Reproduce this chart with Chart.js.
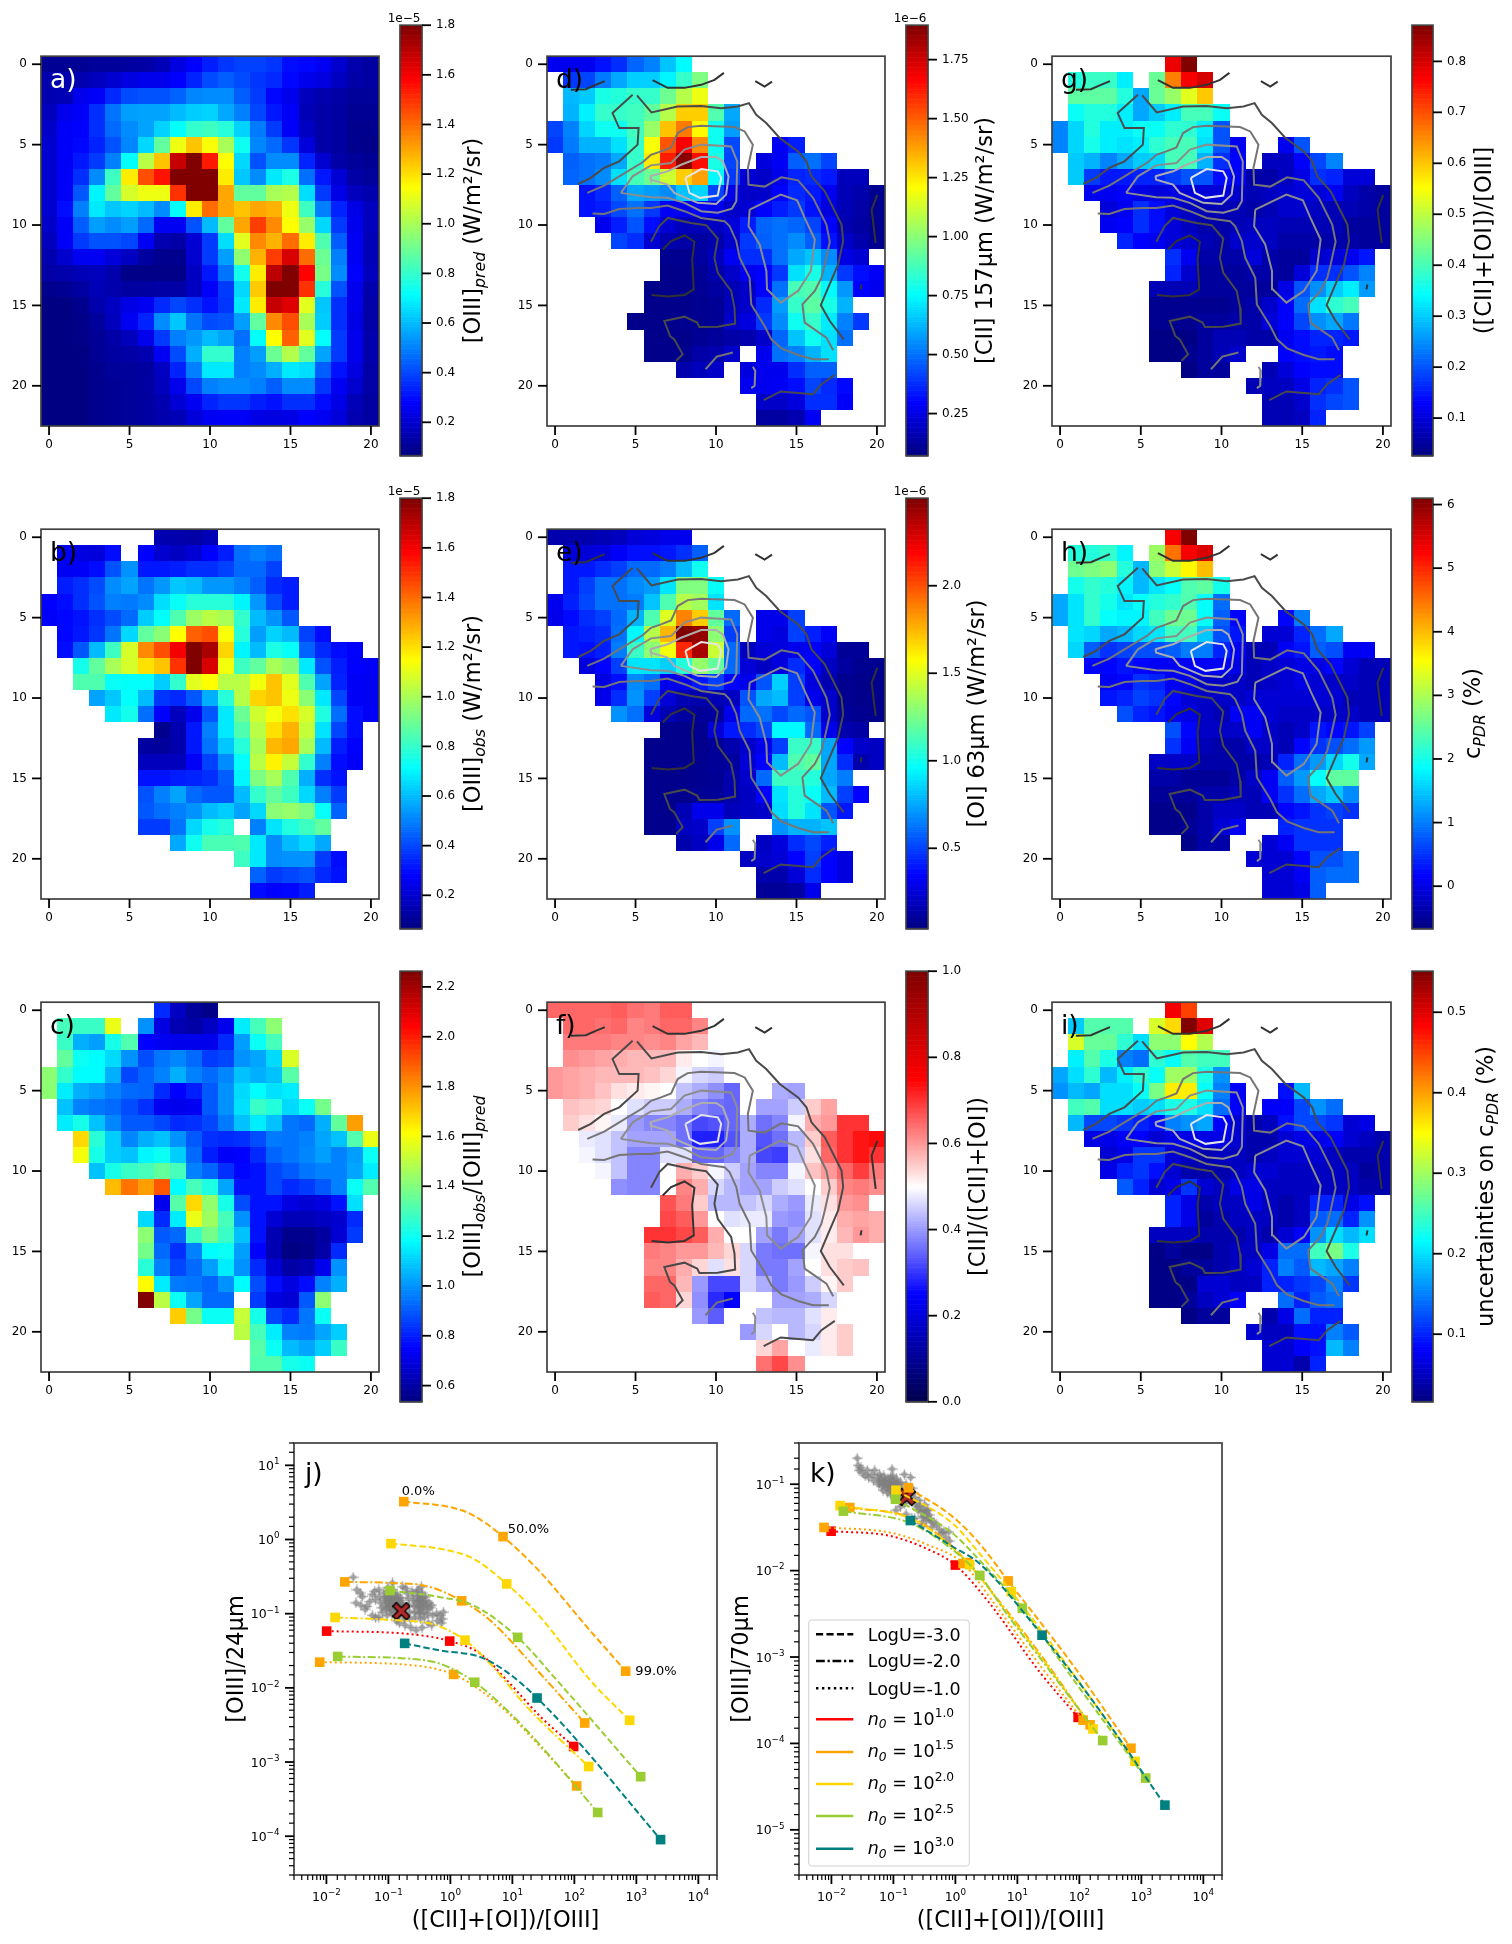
<!DOCTYPE html>
<html>
<head>
<meta charset="utf-8">
<title>Maps and line ratios</title>
<script src="https://cdn.jsdelivr.net/npm/chart.js@4"></script>
<style>
    html, body { margin: 0; background: #fff; }
    #page { position: relative; width: 1512px; height: 1944px; overflow: hidden; }
    canvas { position: absolute; }
</style>
</head>
<body>
<div id="page"></div>
<script>
const _ = null;

// maps, rows 0-22, columns 0-20, values as on each colorbar
const gridA = [
    [10,10,10,11,11,12,13,16,23,28,33,37,39,39,37,30,29,26,20,14,12],
    [14,14,15,17,20,23,25,25,28,34,41,44,41,37,35,29,25,23,18,13,12],
    [15,16,25,27,35,41,42,42,45,51,52,52,44,38,29,25,17,14,13,11,11],
    [17,25,27,36,48,55,56,56,60,63,64,57,50,40,32,27,16,13,12,10,10],
    [19,27,28,36,46,52,56,64,72,80,82,78,64,49,38,27,18,13,12,9,9],
    [20,27,29,34,42,51,65,88,112,125,114,100,74,51,46,37,22,13,12,9,8],
    [20,27,32,38,50,72,103,125,168,180,154,115,65,42,52,52,34,20,13,11,10],
    [20,27,36,52,82,118,145,155,180,180,180,118,62,52,68,76,47,32,21,13,11],
    [20,27,43,70,88,108,112,112,150,180,180,130,88,88,100,102,66,38,24,17,14],
    [20,30,50,68,62,64,60,52,72,118,140,130,125,130,128,112,82,50,34,24,17],
    [19,27,44,55,52,55,46,26,26,42,60,88,130,148,135,115,97,65,38,25,17],
    [17,27,38,42,42,40,26,15,13,21,38,66,110,135,128,140,118,85,44,26,16],
    [15,20,26,26,22,18,12,9,9,20,38,55,96,128,148,165,140,90,50,26,16],
    [13,14,16,17,14,8,8,8,8,18,32,48,75,118,170,180,158,92,52,28,17],
    [9,10,12,16,14,12,12,13,13,18,27,38,65,124,180,180,150,78,42,25,14],
    [7,7,9,14,18,24,26,35,40,36,31,37,68,118,168,164,110,62,36,25,13],
    [7,7,8,11,17,26,34,52,62,48,41,42,55,88,135,145,100,63,36,24,13],
    [7,7,8,10,13,17,25,38,50,54,60,56,47,72,115,142,110,72,38,25,14],
    [7,7,7,10,12,13,15,26,41,58,80,80,50,55,90,102,88,56,38,25,14],
    [7,7,7,9,11,11,12,18,34,50,68,68,50,52,58,68,66,44,31,23,13],
    [7,7,7,9,10,11,12,17,25,40,50,52,52,50,44,52,52,37,26,20,13],
    [7,7,7,9,10,11,12,15,21,26,34,37,37,33,31,36,36,30,24,16,12],
    [7,7,7,9,10,11,12,14,16,22,26,27,27,24,23,24,28,26,22,15,12]
].map(r => r.map(v => v / 100));

const gridB = [
    [_,_,_,_,_,_,_,.15,.14,.13,.16],
    [_,.26,.23,.22,.3,_,.28,.2,.18,.21,.28,.33,.47,.5,.47],
    [_,.26,.27,.3,.42,.53,.32,.32,.33,.36,.36,.39,.46,.46,.39],
    [_,.33,.36,.41,.52,.56,.48,.54,.62,.6,.54,.54,.5,.44,.35,.33],
    [.28,.3,.36,.42,.5,.49,.52,.66,.73,.78,.78,.78,.7,.54,.41,.33],
    [.27,.29,.31,.36,.41,.46,.63,.72,.85,.98,1.03,1.0,.8,.6,.53,.43],
    [_,.29,.32,.37,.48,.65,.88,.95,1.15,1.42,1.45,1.14,.78,.55,.64,.6,.39,.3],
    [_,.3,.43,.6,.82,1.08,1.35,1.45,1.6,1.8,1.73,1.22,.7,.6,.76,.73,.45,.35,.3,.28],
    [_,_,.75,.88,1.0,1.08,1.2,1.25,1.5,1.8,1.65,1.13,.82,.88,1.0,.95,.68,.42,.33,.28,.27],
    [_,_,.85,.85,.73,.72,.72,.63,.8,1.1,1.15,1.03,1.03,1.13,1.25,1.1,.85,.56,.34,.27,.26],
    [_,_,_,.56,.62,.72,.6,.37,.35,.43,.58,.78,1.03,1.22,1.25,1.12,.95,.68,.4,.27,.26],
    [_,_,_,_,.68,.75,.47,.28,.17,.25,.43,.68,.9,1.07,1.13,1.2,1.08,.77,.47,.3,.27],
    [_,_,_,_,_,_,_,.09,.15,.32,.5,.68,.85,1.03,1.2,1.28,1.05,.67,.4,.3],
    [_,_,_,_,_,_,.12,.11,.14,.32,.48,.62,.78,1.0,1.27,1.3,1.0,.6,.33,.28],
    [_,_,_,_,_,_,.17,.17,.17,.27,.39,.52,.72,1.03,1.17,1.05,.8,.5,.3,.27],
    [_,_,_,_,_,_,.31,.31,.33,.34,.36,.44,.7,.93,1.0,.85,.58,.36,.31],
    [_,_,_,_,_,_,.42,.5,.56,.46,.43,.43,.6,.8,.88,.82,.65,.5,.38],
    [_,_,_,_,_,_,.43,.47,.5,.53,.6,.63,.56,.65,.95,.97,.93,.73,.45],
    [_,_,_,_,_,_,.38,.38,.48,.65,.75,.78,_,.5,.67,.77,.82,.88],
    [_,_,_,_,_,_,_,_,.57,.74,.84,.84,.85,.68,.52,.6,.65,.57],
    [_,_,_,_,_,_,_,_,_,_,_,_,.82,.68,.52,.53,.53,.38,.3],
    [_,_,_,_,_,_,_,_,_,_,_,_,_,.45,.38,.4,.42,.35,.31],
    [_,_,_,_,_,_,_,_,_,_,_,_,_,.3,.28,.29,.33]
];

const gridC = [
    [_,_,_,_,_,_,_,.82,.65,.58,.55],
    [_,1.3,1.28,1.28,1.58,_,1.0,.7,.62,.6,.65,.72,1.15,1.3,1.42],
    [_,1.28,1.05,1.02,1.22,1.32,.75,.73,.72,.72,.72,.82,1.02,1.2,1.3],
    [_,1.35,1.2,1.18,1.12,1.0,.88,.95,.98,.93,.85,.87,1.0,1.03,1.12,1.55],
    [1.42,1.27,1.18,1.18,1.05,.87,.92,.97,1.05,.97,.93,.98,1.08,1.05,1.08,1.33],
    [1.42,1.15,1.05,1.02,.97,.93,.92,.82,.75,.8,.9,1.0,1.12,1.18,1.13,1.15],
    [_,1.08,.97,.95,.93,.88,.83,.73,.72,.73,.9,1.0,1.13,1.28,1.24,1.12,1.2,1.38],
    [_,1.15,1.22,1.08,.98,.9,.9,.87,.82,.83,.87,.96,1.08,1.15,1.08,.95,.93,1.05,1.35,1.78],
    [_,_,1.68,1.25,1.1,.98,1.05,1.08,1.0,.9,.83,.82,.83,.88,.96,.95,.97,1.03,1.08,1.32,1.58],
    [_,_,1.6,1.22,1.1,1.08,1.17,1.2,1.1,.93,.8,.74,.75,.82,.92,.95,.98,1.02,.97,1.02,1.2],
    [_,_,_,1.08,1.22,1.28,1.3,1.35,1.3,.97,.92,.83,.76,.78,.87,.9,.95,.97,.97,1.03,1.15],
    [_,_,_,_,1.73,1.85,1.78,1.9,1.18,1.3,1.23,1.03,.78,.78,.87,.82,.85,.9,.97,1.2,1.32],
    [_,_,_,_,_,_,_,.72,1.33,1.68,1.43,1.22,.88,.78,.78,.7,.68,.7,.78,1.13],
    [_,_,_,_,_,_,1.12,.82,1.15,1.58,1.45,1.3,1.0,.78,.68,.63,.63,.65,.67,.82],
    [_,_,_,_,_,_,1.42,.9,.93,1.28,1.38,1.28,1.08,.78,.62,.56,.56,.59,.68,.85],
    [_,_,_,_,_,_,1.38,.93,.83,.97,1.18,1.2,1.02,.75,.62,.54,.55,.6,.82],
    [_,_,_,_,_,_,1.25,.97,.87,.93,1.02,1.15,1.0,.82,.68,.6,.62,.72,1.0],
    [_,_,_,_,_,_,1.62,1.15,.96,.95,.92,1.0,1.18,.88,.77,.7,.77,.97,1.05],
    [_,_,_,_,_,_,2.26,1.5,1.2,1.03,.93,.93,_,.85,.7,.68,.9,1.42],
    [_,_,_,_,_,_,_,_,1.7,1.38,1.2,1.2,1.52,1.22,.87,.82,.95,1.2],
    [_,_,_,_,_,_,_,_,_,_,_,_,1.5,1.3,1.15,.97,.96,1.03,1.1],
    [_,_,_,_,_,_,_,_,_,_,_,_,_,1.33,1.2,1.07,1.03,1.1,1.28],
    [_,_,_,_,_,_,_,_,_,_,_,_,_,1.32,1.32,1.22,1.2]
];

const gridD = [
    [.27,.27,.27,.33,.38,.48,.53,.65,.75],
    [_,.4,.42,.52,.6,.67,.67,.74,.85,.98],
    [_,.63,.66,.8,.82,.85,.85,.95,1.08,1.18],
    [_,.62,.73,.85,.85,.87,.93,1.08,1.3,1.3,.9,.6],
    [.42,.53,.68,.78,.78,.87,1.03,1.32,1.45,1.22,.78,.58],
    [.4,.52,.62,.62,.7,.85,1.2,1.52,1.68,1.42,.78,.43,_,_,.28,.35],
    [_,.47,.5,.52,.6,.85,1.25,1.62,1.88,1.65,.8,.42,_,.24,.28,.47,.5,.42],
    [_,.48,.5,.55,.7,.88,.95,1.12,1.3,1.38,.75,.4,.22,.2,.26,.36,.37,.34,.18,.18],
    [_,_,.33,.37,.47,.6,.58,.55,.65,.68,.42,.26,.2,.21,.3,.37,.34,.27,.17,.15,.1],
    [_,_,.33,.35,.43,.5,.4,.28,.27,.3,.27,.2,.22,.3,.35,.4,.33,.24,.17,.14,.1],
    [_,_,_,.27,.35,.45,.32,.22,.18,.17,.19,.23,.35,.48,.5,.48,.42,.3,.16,.13,.1],
    [_,_,_,_,.42,.38,.22,.16,.14,.13,.15,.21,.4,.47,.5,.55,.47,.33,.2,.15,.1],
    [_,_,_,_,_,_,_,.1,.1,.13,.18,.28,.38,.38,.5,.6,.65,.55,.25,.22],
    [_,_,_,_,_,_,_,.09,.09,.11,.15,.2,.27,.3,.4,.7,.8,.62,.4,.32,.28],
    [_,_,_,_,_,_,.09,.09,.09,.11,.13,.17,.2,.3,.5,.88,.9,.75,.57,.3,.27],
    [_,_,_,_,_,_,.09,.09,.09,.1,.11,.18,.2,.37,.58,.85,.92,.8,.62],
    [_,_,_,_,_,.09,.09,.09,.1,.1,.11,.2,.24,.4,.55,.78,.85,.72,.53,.4],
    [_,_,_,_,_,_,.09,.09,.09,.11,.12,.14,.15,.2,.48,.65,.78,.7,.5],
    [_,_,_,_,_,_,.09,.09,.1,.14,.15,.2,_,.27,.5,.53,.62,.7],
    [_,_,_,_,_,_,_,_,.15,.18,.2,_,.24,.27,.27,.38,.47,.47],
    [_,_,_,_,_,_,_,_,_,_,_,_,.27,.27,.28,.32,.42,.37,.31],
    [_,_,_,_,_,_,_,_,_,_,_,_,_,.2,.2,.24,.38,.38,.29],
    [_,_,_,_,_,_,_,_,_,_,_,_,_,.13,.13,.16,.28]
];

const gridE = [
    [.15,.15,.15,.17,.19,.25,.27,.3,.31],
    [_,.25,.25,.27,.33,.38,.38,.4,.46,.58],
    [_,.4,.4,.45,.5,.6,.6,.65,.8,1.0],
    [_,.4,.5,.62,.62,.68,.72,.9,1.27,1.27,.98],
    [.31,.42,.52,.62,.62,.65,.82,1.15,1.4,1.35,.9],
    [.3,.37,.45,.5,.6,.78,1.15,1.5,1.88,1.7,1.2,.6,_,.3,.3,.5],
    [_,.4,.42,.45,.62,.95,1.4,1.75,2.5,2.45,1.3,.5,_,.3,.27,.5,.42,.33],
    [_,.4,.38,.42,.65,1.1,1.3,1.55,2.1,2.4,1.45,.6,.2,.25,.27,.3,.33,.25,.1,.1],
    [_,_,.27,.35,.5,.9,.9,.85,1.05,1.32,1.2,.6,.25,.2,.27,.45,.33,.2,.12,.08,.08],
    [_,_,_,.28,.38,.68,.62,.3,.3,.4,.5,.35,.3,.55,.85,.5,.27,.16,.08,.07,.07],
    [_,_,_,.3,.45,.7,.5,.25,.17,.15,.17,.2,.55,.75,.8,.5,.3,.22,.08,.07,.07],
    [_,_,_,_,.7,.62,.27,.17,.12,.1,.12,.3,.6,.62,.52,.6,.55,.22,.1,.08,.07],
    [_,_,_,_,_,_,_,.07,.07,.08,.25,.4,.45,.52,.95,.95,.6,.3,.15,.13],
    [_,_,_,_,_,_,.07,.07,.07,.07,.1,.15,.22,.3,.5,1.1,1.1,.75,.35,.22,.2],
    [_,_,_,_,_,_,.07,.07,.07,.08,.1,.12,.25,.35,.8,1.15,1.2,.75,.45,.15,.2],
    [_,_,_,_,_,_,.07,.07,.07,.08,.09,.15,.22,.6,1.1,1.1,1.05,.75,.65],
    [_,_,_,_,_,_,.07,.07,.07,.09,.1,.15,.2,.35,.9,1.05,.98,.8,.5,.35],
    [_,_,_,_,_,_,.07,.07,.17,.3,.3,.18,.2,.22,.88,1.05,.9,.55,.4],
    [_,_,_,_,_,_,.07,.07,.2,.22,.5,.7,_,_,.7,.78,.78,.82],
    [_,_,_,_,_,_,_,_,.15,.2,.3,.6,_,.2,.27,.45,.52,.42],
    [_,_,_,_,_,_,_,_,_,_,_,_,.2,.22,.25,.35,.5,.35,.27],
    [_,_,_,_,_,_,_,_,_,_,_,_,_,.15,.15,.25,.45,.35,.27],
    [_,_,_,_,_,_,_,_,_,_,_,_,_,.1,.1,.13,.3]
];

const gridF = [
    [.65,.65,.65,.65,.66,.64,.63,.66,.66],
    [_,.65,.65,.64,.65,.62,.63,.65,.65,.62],
    [_,.63,.63,.63,.62,.62,.61,.62,.59,.57],
    [_,.61,.6,.59,.58,.57,.57,.57,.52,.5,.49],
    [.6,.59,.58,.57,.57,.57,.56,.54,.49,.46,.45],
    [.6,.59,.58,.56,.53,.52,.51,.5,.44,.42,.39,.35,_,_,.42,.41],
    [_,.56,.55,.54,.5,.47,.45,.45,.42,.38,.36,.35,_,.41,.41,.45,.55,.59],
    [_,.55,.53,.51,.48,.4,.38,.38,.36,.32,.33,.35,.42,.36,.38,.49,.58,.6,.7,.7],
    [_,_,.48,.47,.44,.41,.41,.41,.36,.28,.28,.33,.42,.33,.36,.43,.55,.66,.7,.73,.74],
    [_,_,.49,.47,.44,.38,.38,.47,.47,.35,.35,.38,.42,.32,.31,.44,.53,.65,.7,.73,.7],
    [_,_,_,.49,.44,.38,.38,.5,.58,.55,.49,.45,.41,.38,.38,.49,.56,.6,.65,.69,.63],
    [_,_,_,_,.39,.38,.38,.5,.62,.58,.46,.43,.41,.41,.45,.47,.5,.55,.62,.63,.61],
    [_,_,_,_,_,_,_,.67,.63,.55,.43,.43,.44,.46,.42,.4,.48,.53,.6,.61],
    [_,_,_,_,_,_,_,.68,.66,.6,.5,.47,.48,.48,.4,.39,.47,.52,.58,.59,.58],
    [_,_,_,_,_,_,.7,.7,.68,.66,.58,.5,.5,.41,.37,.41,.47,.52,.57,.6,.58],
    [_,_,_,_,_,_,.63,.62,.6,.6,.57,.54,.46,.37,.36,.36,.49,.53,.53],
    [_,_,_,_,_,_,.62,.62,.58,.54,.47,.53,.46,.37,.37,.41,.5,.53,.55,.56],
    [_,_,_,_,_,_,.65,.65,.57,.4,.32,.32,.46,.42,.37,.4,.45,.51,.55],
    [_,_,_,_,_,_,.66,.65,.54,.39,.29,.25,_,_,.41,.41,.42,.46],
    [_,_,_,_,_,_,_,_,.5,.4,.34,_,_,.44,.43,.43,.47,.52],
    [_,_,_,_,_,_,_,_,_,_,_,_,.4,.46,.5,.43,.46,.52,.55],
    [_,_,_,_,_,_,_,_,_,_,_,_,_,.54,.59,.5,.48,.52,.55],
    [_,_,_,_,_,_,_,_,_,_,_,_,_,.64,.68,.61,.5]
];

const gridG = [
    [_,_,_,_,_,_,_,.78,.87],
    [_,.37,.39,.39,.33,_,.43,.66,.77,.8],
    [_,.42,.42,.42,.37,.27,.43,.47,.53,.6],
    [_,.35,.37,.37,.33,.27,.3,.33,.4,.4,.35],
    [.24,.31,.37,.33,.33,.35,.35,.38,.38,.33,.2],
    [.24,.31,.36,.33,.32,.33,.38,.4,.4,.32,.2,.12,_,_,.12,.2],
    [_,.3,.28,.24,.27,.3,.31,.4,.4,.28,.17,.13,_,.08,.08,.13,.19,.24],
    [_,.3,.18,.15,.15,.16,.16,.18,.2,.2,.14,.12,.06,.06,.08,.11,.17,.16,.1,.1],
    [_,_,.12,.12,.13,.11,.1,.11,.1,.1,.1,.09,.07,.08,.09,.1,.1,.12,.08,.06,.05],
    [_,_,_,.1,.12,.17,.14,.1,.08,.07,.07,.07,.06,.07,.09,.09,.08,.07,.07,.06,.05],
    [_,_,_,.12,.13,.17,.14,.1,.08,.06,.06,.07,.08,.08,.07,.07,.07,.07,.05,.05,.05],
    [_,_,_,_,.16,.13,.12,.1,.09,.07,.06,.09,.09,.08,.06,.06,.06,.06,.06,.05,.05],
    [_,_,_,_,_,_,_,.17,.12,.06,.06,.06,.1,.06,.05,.05,.09,.1,.12,.15],
    [_,_,_,_,_,_,_,.16,.09,.05,.05,.05,.06,.06,.05,.1,.17,.17,.2,.24],
    [_,_,_,_,_,_,.07,.07,.07,.05,.05,.05,.05,.05,.11,.2,.25,.3,.33,.26],
    [_,_,_,_,_,_,.04,.04,.04,.04,.04,.05,.06,.09,.13,.22,.32,.38,.4],
    [_,_,_,_,_,_,.04,.04,.04,.05,.05,.06,.06,.1,.13,.19,.25,.27,.23],
    [_,_,_,_,_,_,.03,.03,.03,.05,.07,.07,.06,.06,.12,.14,.16,.16,.15],
    [_,_,_,_,_,_,.03,.03,.04,.05,.07,.09,_,_,.13,.14,.15,.14],
    [_,_,_,_,_,_,_,_,.03,.05,.05,_,_,.07,.1,.13,.14,.14],
    [_,_,_,_,_,_,_,_,_,_,_,_,.07,.08,.08,.11,.16,.17,.2],
    [_,_,_,_,_,_,_,_,_,_,_,_,_,.07,.07,.09,.17,.19,.2],
    [_,_,_,_,_,_,_,_,_,_,_,_,_,.07,.07,.08,.16]
];

const gridH = [
    [_,_,_,_,_,_,_,5.3,6.1],
    [_,2.1,2.1,2.2,1.8,_,2.9,4.5,5.3,5.5],
    [_,2.6,2.7,2.8,2.1,1.4,2.8,3.2,3.6,4.0],
    [_,2.0,2.2,2.1,1.8,1.4,1.7,1.9,2.4,2.5,2.0],
    [1.3,1.7,2.2,2.0,1.7,1.9,2.1,2.2,2.4,1.9,.9],
    [1.3,1.7,2.2,1.9,1.8,1.8,2.3,2.6,2.6,1.9,.8,.2,_,_,.2,1.0],
    [_,1.7,1.6,1.3,1.4,1.6,1.7,2.3,2.3,1.5,.7,.3,_,-.1,-.1,.4,.9,1.3],
    [_,1.6,.8,.5,.6,.7,.7,.8,1.0,1.0,.4,.1,-.3,-.3,.1,.3,.8,.7,.1,.1],
    [_,_,.2,.2,.3,.2,.1,.1,.1,.1,.1,0,-.3,-.2,-.1,0,0,.2,-.1,-.3,-.3],
    [_,_,_,.1,.2,.5,.4,.1,0,-.2,-.2,-.2,-.3,-.2,-.1,0,-.1,-.2,-.2,-.3,-.3],
    [_,_,_,.3,.4,.6,.5,.2,-.1,-.2,-.2,-.2,-.1,-.1,-.1,-.1,-.1,-.1,-.3,-.3,-.3],
    [_,_,_,_,.7,.4,.3,.1,0,-.2,-.3,.1,.1,-.1,-.2,-.2,-.2,-.2,-.2,-.3,-.3],
    [_,_,_,_,_,_,_,.7,.2,-.2,-.2,-.2,.1,-.2,-.3,-.2,.3,.2,.3,.6],
    [_,_,_,_,_,_,_,.5,.1,-.3,-.4,-.4,-.2,-.2,-.3,.2,.5,.7,.9,1.2],
    [_,_,_,_,_,_,-.2,-.2,-.2,-.4,-.4,-.4,-.4,-.3,.4,.9,1.2,1.6,2.0,1.3],
    [_,_,_,_,_,_,-.4,-.4,-.5,-.5,-.5,-.4,-.2,.1,.8,1.2,1.9,2.5,2.5],
    [_,_,_,_,_,_,-.5,-.5,-.5,-.4,-.4,-.3,-.3,.1,.5,.9,1.3,1.5,1.1],
    [_,_,_,_,_,_,-.6,-.6,-.6,-.4,-.2,-.2,-.3,-.3,.2,.3,.5,.6,.5],
    [_,_,_,_,_,_,-.6,-.6,-.5,-.4,-.1,.1,_,_,.4,.5,.5,.5],
    [_,_,_,_,_,_,_,_,-.6,-.4,-.4,_,_,-.1,.1,.5,.5,.5],
    [_,_,_,_,_,_,_,_,_,_,_,_,-.1,-.1,-.1,.2,.7,.7,.9],
    [_,_,_,_,_,_,_,_,_,_,_,_,_,-.1,-.1,.1,.8,.9,.9],
    [_,_,_,_,_,_,_,_,_,_,_,_,_,-.1,-.1,0,.8]
];

const gridI = [
    [_,_,_,_,_,_,_,.49,.45],
    [_,.19,.26,.26,.26,_,.33,.37,.55,.5],
    [_,.33,.27,.27,.24,.2,.29,.29,.35,.31],
    [_,.21,.26,.23,.15,.14,.24,.22,.26,.25,.25],
    [.17,.2,.24,.18,.21,.24,.22,.3,.3,.23,.16],
    [.16,.18,.17,.2,.2,.22,.28,.36,.36,.22,.15,.08,_,_,.09,.18],
    [_,.25,.26,.2,.2,.19,.2,.23,.23,.2,.14,.08,_,.08,.08,.12,.16,.14],
    [_,.18,.12,.12,.11,.1,.09,.15,.16,.17,.08,.06,.04,.05,.09,.12,.12,.11,.06,.07],
    [_,_,.07,.07,.08,.08,.06,.07,.07,.07,.07,.06,.04,.04,.06,.07,.07,.08,.06,.05,.04],
    [_,_,_,.06,.07,.11,.11,.06,.05,.04,.05,.05,.04,.05,.06,.06,.06,.05,.04,.04,.04],
    [_,_,_,.07,.1,.11,.09,.06,.04,.04,.04,.05,.06,.06,.05,.05,.05,.05,.05,.03,.04],
    [_,_,_,_,.13,.1,.06,.07,.11,.06,.05,.07,.07,.05,.05,.05,.05,.05,.05,.04,.04],
    [_,_,_,_,_,_,_,.1,.07,.04,.05,.05,.07,.05,.04,.05,.1,.1,.07,.09],
    [_,_,_,_,_,_,_,.1,.07,.03,.04,.05,.05,.05,.04,.05,.13,.14,.1,.16],
    [_,_,_,_,_,_,.05,.05,.05,.04,.04,.04,.05,.04,.06,.08,.16,.2,.18,.2],
    [_,_,_,_,_,_,.02,.03,.02,.02,.04,.05,.05,.07,.14,.14,.25,.28,.23],
    [_,_,_,_,_,_,.02,.02,.03,.03,.04,.05,.06,.1,.15,.13,.18,.17,.15],
    [_,_,_,_,_,_,.02,.02,.02,.06,.06,.05,.05,.1,.1,.11,.12,.15,.11],
    [_,_,_,_,_,_,.02,.02,.03,.05,.06,.08,_,_,.14,.1,.13,.14],
    [_,_,_,_,_,_,_,_,.02,.03,.03,_,_,.04,.07,.14,.1,.1],
    [_,_,_,_,_,_,_,_,_,_,_,_,.06,.05,.05,.09,.09,.15,.13],
    [_,_,_,_,_,_,_,_,_,_,_,_,_,.06,.06,.08,.09,.18,.15],
    [_,_,_,_,_,_,_,_,_,_,_,_,_,.06,.06,.04,.1]
];

const mapTicks = [0, 5, 10, 15, 20];

// contour polylines in map coordinates, dark (low) to light (high)
const level1 = [
    [[.98,1.59],[1.91,1.55],[2.64,1.24],[3.09,1.05]],
    [[6.06,.99],[6.99,1.47],[8.04,1.47],[9.08,1.28],[9.91,.97],[10.49,.54]],
    [[12.44,1.05],[13.02,1.39],[13.48,1.08]],
    [[20.02,8.13],[19.67,9.04],[19.92,11.11]],
    [[18.98,14.0],[19.04,13.69]],
    [[6.69,11.52],[7.21,11.0],[8.04,10.65],[8.66,11.04],[8.52,12.14],[8.62,14.0],[8.04,14.35],[7.0,14.44],[6.0,14.35]]
];
const level2 = [
    [[1.44,7.45],[2.22,7.07],[3.05,6.45],[3.99,6.04],[5.13,5.0],[5.19,3.97],[3.99,3.97],[3.57,3.04],[4.82,1.9]],
    [[5.09,1.94],[5.99,3.0],[7.62,2.63],[9.08,2.59],[10.32,2.73],[11.36,2.63],[12.05,2.42],[12.5,3.14],[13.12,3.66],[13.96,4.59],[15.1,5.42],[15.62,6.04],[15.93,6.97],[16.76,7.9],[17.8,9.97],[17.9,11.0],[17.59,12.45],[16.97,13.9],[16.51,14.98],[17.07,15.97],[17.94,17.11]],
    [[5.96,11.04],[6.48,10.07],[7.0,9.56],[8.45,9.87],[9.39,10.01],[10.11,10.84],[9.9,12.04],[10.11,12.97],[10.94,14.1],[11.15,15.14],[11.19,16.13],[10.11,16.32],[8.97,16.34],[8.83,16.07],[8.04,15.7],[6.79,15.97],[7.14,16.9],[7.41,17.11],[7.93,18.04],[7.52,18.45]],
    [[12.96,20.89],[14.02,20.35],[16.03,20.52],[16.55,19.9],[17.38,19.32]]
];
const level3 = [
    [[2.0,8.0],[3.05,7.55],[3.99,6.97],[5.44,6.1],[5.96,5.63],[6.58,5.42],[7.21,5.17],[7.62,4.28],[8.24,3.91],[9.08,3.83],[11.15,3.91],[11.78,4.18],[12.29,5.0],[11.98,6.45],[12.02,7.49],[13.02,7.61],[14.06,7.03],[15.1,7.22],[16.03,8.31],[16.86,9.97],[17.07,11.04],[16.76,12.45],[16.55,13.28],[16.14,14.1],[15.37,14.93],[15.51,16.07],[16.86,17.0],[17.28,17.79]],
    [[2.33,9.29],[3.05,9.31],[3.99,9.0],[5.13,8.94],[5.96,8.94],[6.99,8.79],[8.04,9.14],[9.08,9.56],[10.53,9.76],[10.84,10.07],[11.26,10.99],[11.47,12.04],[12.09,13.28],[12.19,14.94],[13.02,16.28],[13.44,17.11],[14.06,17.67],[15.1,18.08],[16.03,18.35],[17.01,18.35]],
    [[9.35,18.97],[10.05,18.18],[11.05,17.93]]
];
const level4 = [
    [[4.09,8.0],[4.82,6.97],[5.96,6.29],[7.21,6.14],[8.04,5.31],[9.08,5.0],[10.94,5.11],[11.32,6.04],[11.26,8.52],[10.99,8.98],[10.11,9.24],[9.08,9.14],[8.04,8.62],[7.0,8.31],[5.96,8.27],[4.09,8.0]],
    [[12.09,9.04],[14.02,8.11],[15.04,8.47],[15.51,9.56],[16.14,10.9],[15.89,12.86],[15.1,14.1],[14.02,14.83],[13.17,14.0],[13.13,12.86],[12.71,11.21],[12.02,10.07],[12.09,9.04]],
    [[12.29,18.82],[12.44,19.07],[12.4,20.0],[12.19,20.14]]
];
const level5 = [
    [[5.9,6.97],[5.96,7.18],[7.0,7.49],[7.41,8.0],[8.87,8.62],[10.01,8.69],[10.63,8.11],[10.78,6.97],[10.43,6.04],[10.01,5.77],[9.08,5.77],[7.83,6.25],[7.0,6.66],[5.9,6.97]]
];
const level6 = [
    [[8.1,7.07],[8.35,8.0],[9.01,8.31],[10.11,8.17],[10.32,7.07],[10.11,6.66],[9.08,6.52],[8.1,7.07]]
];

// model tracks of panel j, u = -log U, n = log n0 x 10
const j_u3_n15 = [[.177,3.24],[1.13,2.66],[2.38,2.1],[7.06,1.095],[28.3,.362],[160,.066],[673,.0168]];
const j_u3_n20 = [[.11,.88],[.88,.72],[2.38,.548],[8.1,.252],[28.3,.0897],[181,.0126],[780,.00365]];
const j_u3_n25 = [[.106,.205],[.69,.167],[2.38,.129],[12.2,.0479],[52.5,.0126],[1175,.000635]];
const j_u3_n30 = [[.183,.0398],[.69,.0319],[3.05,.026],[8.2,.0163],[25,.0073],[97.5,.0022],[2460,.00009]];
const j_u2_n15 = [[.0198,.268],[.108,.26],[.42,.235],[1.52,.149],[4.4,.081],[28.3,.0155],[147,.00336]];
const j_u2_n20 = [[.0138,.0889],[.156,.0809],[.54,.0716],[1.72,.044],[4.4,.0211],[17.3,.0055],[170,.00087]];
const j_u2_n25 = [[.0152,.0265],[.256,.0244],[.69,.0211],[2.47,.0119],[8.2,.005],[28.3,.00168],[238,.000209]];
const j_u1_n10 = [[.0101,.0582],[.2,.0536],[.975,.0427],[3.05,.0288],[8.2,.0126],[28.3,.0041],[97.5,.00162]];
const j_u1_n15 = [[.0078,.0222],[.2,.0205],[1.13,.0152],[3.05,.00925],[8.2,.0047],[28.3,.0016],[109,.000476]];

// same tracks in panel k
const k_u3_n15 = [[.174,.0907],[.91,.0419],[2.45,.0206],[7.1,.0076],[78.5,.00081],[680,.000088]];
const k_u3_n20 = [[.11,.0852],[.91,.035],[2.45,.0158],[8,.0057],[78.5,.00065],[790,.000062]];
const k_u3_n25 = [[.108,.067],[.91,.0269],[2.45,.0132],[12,.00366],[78.5,.00056],[1175,.0000397]];
const k_u3_n30 = [[.188,.038],[.91,.0189],[2.45,.0121],[25,.00179],[147,.000347],[2400,.0000193]];
const k_u2_n15 = [[.0198,.0537],[.207,.0401],[.81,.0202],[1.56,.0124],[6.65,.00349],[22.9,.0011],[149,.000164]];
const k_u2_n20 = [[.0138,.0566],[.207,.0391],[.81,.0197],[1.7,.0117],[6.65,.00334],[22.9,.00105],[166,.000147]];
const k_u2_n25 = [[.0156,.0488],[.183,.0357],[.81,.0185],[2.48,.0088],[6.65,.0032],[22.9,.00099],[238,.000108]];
const k_u1_n10 = [[.0099,.0286],[.0871,.0253],[.34,.018],[1,.0116],[3.58,.00417],[22.9,.00067],[95.5,.0002]];
const k_u1_n15 = [[.0076,.0316],[.0871,.0276],[.34,.0202],[1.33,.0121],[4.03,.00437],[22.9,.00081],[115,.000186]];

// pixels of the maps, grey cloud behind the tracks
const cloudJ = [[.027,.31],[.031,.21],[.035,.19],[.038,.17],[.03,.14],[.036,.13],[.045,.125],[.05,.145],[.042,.115],[.055,.18],[.06,.2],[.062,.155],[.07,.21],[.072,.17],[.075,.14],[.078,.12],[.08,.105],[.062,.088],[.055,.095],[.07,.09],[.085,.19],[.088,.16],[.09,.13],[.092,.115],[.095,.095],[.098,.225],[.1,.2],[.102,.18],[.104,.165],[.106,.15],[.108,.135],[.11,.125],[.112,.11],[.114,.1],[.116,.26],[.118,.21],[.12,.19],[.122,.17],[.124,.155],[.126,.145],[.128,.13],[.13,.12],[.132,.105],[.134,.09],[.136,.08],[.138,.18],[.14,.16],[.142,.14],[.144,.125],[.146,.11],[.148,.095],[.15,.075],[.155,.165],[.16,.15],[.165,.135],[.17,.12],[.175,.1],[.18,.085],[.185,.07],[.17,.23],[.19,.22],[.2,.19],[.21,.16],[.215,.13],[.22,.105],[.225,.085],[.23,.065],[.24,.2],[.25,.175],[.255,.15],[.26,.125],[.265,.105],[.27,.09],[.28,.06],[.29,.195],[.3,.21],[.305,.17],[.31,.15],[.315,.13],[.32,.115],[.325,.1],[.33,.085],[.34,.23],[.35,.19],[.355,.165],[.36,.145],[.365,.125],[.37,.105],[.38,.09],[.39,.17],[.4,.15],[.41,.13],[.42,.115],[.43,.1],[.45,.14],[.47,.12],[.5,.13],[.52,.095],[.6,.1],[.68,.095],[.74,.085],[.72,.075],[.77,.105],[.62,.08],[.44,.075],[.5,.07],[.35,.065],
    [.09,.15],[.095,.14],[.1,.125],[.105,.115],[.11,.145],[.115,.135],[.12,.12],[.125,.11],[.13,.15],[.135,.135],[.1,.16],[.11,.17],[.12,.145],[.13,.165],[.14,.15],[.145,.135],[.15,.12],[.155,.14],[.16,.13],[.095,.17],[.3,.15],[.32,.16],[.34,.14],[.3,.125],[.33,.12],[.28,.14],[.35,.13],[.31,.105]];
const cloudK = [[.026,.2],[.027,.165],[.028,.145],[.03,.155],[.032,.135],[.035,.125],[.038,.145],[.04,.12],[.045,.13],[.048,.11],[.05,.145],[.055,.12],[.058,.1],[.06,.13],[.062,.115],[.065,.095],[.068,.085],[.07,.125],[.072,.11],[.075,.1],[.078,.09],[.08,.08],[.082,.115],[.085,.105],[.088,.095],[.09,.085],[.092,.075],[.095,.15],[.098,.125],[.1,.11],[.102,.1],[.105,.09],[.108,.08],[.11,.07],[.112,.115],[.115,.105],[.118,.095],[.12,.085],[.122,.075],[.125,.065],[.13,.105],[.135,.09],[.14,.08],[.145,.07],[.15,.06],[.11,.05],[.13,.055],[.15,.13],[.16,.1],[.17,.085],[.175,.075],[.18,.065],[.19,.12],[.2,.09],[.21,.08],[.22,.07],[.23,.06],[.24,.055],[.25,.05],[.16,.045],[.2,.04],[.26,.065],[.27,.055],[.28,.048],[.3,.05],[.31,.042],[.32,.058],[.33,.046],[.34,.038],[.36,.05],[.38,.044],[.4,.038],[.42,.032],[.45,.036],[.28,.035],[.5,.034],[.55,.03],[.6,.027],[.65,.028],[.7,.024],[.8,.022],[.78,.028],[.3,.033],[.22,.04],
    [.07,.1],[.075,.11],[.08,.095],[.085,.1],[.09,.105],[.095,.09],[.1,.095],[.105,.1],[.11,.085],[.115,.09],[.12,.1],[.125,.08],[.06,.105],[.065,.11],[.09,.12],[.1,.08],[.13,.08],[.14,.07],[.3,.042],[.34,.05],[.38,.04]];
const meanJ = [[.162,.108]];
const meanK = [[.164,.0714]];

const legendLogU = ['LogU=-3.0', 'LogU=-2.0', 'LogU=-1.0'];
const legendDensity = ['1.0', '1.5', '2.0', '2.5', '3.0'];

const FONT = '"DejaVu Sans"';
const RED = '#ff0000', ORANGE = '#ffa500', GOLD = '#ffd700', GREEN = '#9acd32', TEAL = '#008080';
const DENSITY_COLORS = [RED, ORANGE, GOLD, GREEN, TEAL];
const DASHES = { dash: [6.5, 3], dashdot: [8, 2.5, 2, 2.5], dot: [2, 3] };

const page = document.getElementById('page');

function addCanvas(left, top, width, height) {
    const c = document.createElement('canvas');
    c.width = width;
    c.height = height;
    c.style.left = left + 'px';
    c.style.top = top + 'px';
    c.style.width = width + 'px';
    c.style.height = height + 'px';
    page.appendChild(c);
    return c.getContext('2d');
}

// colormaps
function clip(v) { return Math.max(0, Math.min(1, v)); }
function jet(t) {
    const r = clip(1.5 - Math.abs(4 * t - 3));
    const g = clip(1.5 - Math.abs(4 * t - 2));
    const b = clip(1.5 - Math.abs(4 * t - 1));
    return `rgb(${Math.round(r * 255)},${Math.round(g * 255)},${Math.round(b * 255)})`;
}
function seismic(t) {
    let r, g, b;
    if (t < .25) { r = 0; g = 0; b = .3 + .7 * t / .25; }
    else if (t < .5) { r = g = (t - .25) / .25; b = 1; }
    else if (t < .75) { r = 1; g = b = 1 - (t - .5) / .25; }
    else { r = 1 - .5 * (t - .75) / .25; g = 0; b = 0; }
    return `rgb(${Math.round(r * 255)},${Math.round(g * 255)},${Math.round(b * 255)})`;
}

// text made of plain, sub and superscript runs
function drawRuns(ctx, runs, x, y, size, opts) {
    opts = opts || {};
    const list = typeof runs === 'string' ? [{ t: runs }] : runs;
    const fontOf = r => `${r.i ? 'italic ' : ''}${(r.sub || r.sup) ? size * .7 : size}px ${FONT}`;
    let total = 0;
    list.forEach(r => { ctx.font = fontOf(r); total += ctx.measureText(r.t).width; });
    ctx.save();
    ctx.translate(x, y);
    if (opts.rotate) ctx.rotate(opts.rotate);
    ctx.fillStyle = opts.color || '#000';
    ctx.textBaseline = 'alphabetic';
    ctx.textAlign = 'left';
    let pos = opts.left ? 0 : opts.right ? -total : -total / 2;
    list.forEach(r => {
        ctx.font = fontOf(r);
        const shift = r.sub ? size * .2 : r.sup ? -size * .45 : 0;
        ctx.fillText(r.t, pos, size * .36 + shift);
        pos += ctx.measureText(r.t).width;
    });
    ctx.restore();
}

function isDecade(v) {
    const e = Math.log10(v);
    return Math.abs(e - Math.round(e)) < 1e-6;
}

function drawTickMarks(chart, scale, isLog) {
    const ctx = chart.ctx, a = chart.chartArea;
    ctx.strokeStyle = '#000';
    scale.ticks.forEach(t => {
        const p = scale.getPixelForValue(t.value);
        const big = !isLog || isDecade(t.value);
        const len = big ? 9 : 5;
        ctx.lineWidth = big ? 1.8 : 1.2;
        ctx.beginPath();
        if (scale.axis === 'x') {
            ctx.moveTo(p, a.bottom);
            ctx.lineTo(p, a.bottom + len);
        } else if (scale.position === 'right') {
            ctx.moveTo(a.right, p);
            ctx.lineTo(a.right + len, p);
        } else {
            ctx.moveTo(a.left, p);
            ctx.lineTo(a.left - len, p);
        }
        ctx.stroke();
        // decade labels with a real superscript
        if (isLog && big) {
            const label = [{ t: '10' }, { t: String(Math.round(Math.log10(t.value))).replace('-', '\u2212'), sup: 1 }];
            if (scale.axis === 'x') drawRuns(ctx, label, p, a.bottom + 21, 12.5);
            else drawRuns(ctx, label, a.left - 14.5, p, 12.5, { right: true });
        }
    });
}

function drawFrame(chart) {
    const a = chart.chartArea, ctx = chart.ctx;
    ctx.strokeStyle = '#404040';
    ctx.lineWidth = 1.7;
    ctx.strokeRect(a.left, a.top, a.right - a.left, a.bottom - a.top);
}

// --- map panels ---
function heatPlugin(grid, cmap, vmin, vmax) {
    return {
        id: 'heat',
        beforeDatasetsDraw(chart) {
            const x = chart.scales.x, y = chart.scales.y, ctx = chart.ctx;
            grid.forEach((row, r) => row.forEach((v, c) => {
                if (v === null) return;
                const x0 = Math.round(x.getPixelForValue(c - .5)), x1 = Math.round(x.getPixelForValue(c + .5));
                const y0 = Math.round(y.getPixelForValue(r - .5)), y1 = Math.round(y.getPixelForValue(r + .5));
                ctx.fillStyle = cmap(clip((v - vmin) / (vmax - vmin)));
                ctx.fillRect(x0, y0, x1 - x0, y1 - y0);
            }));
        }
    };
}

function contourSets() {
    const sets = [];
    [[level6, '#e4e4e4'], [level5, '#adadad'], [level4, '#8c8c8c'], [level3, '#757575'], [level2, '#4a4a4a'], [level1, '#333333']].forEach(([level, color]) => {
        level.forEach(line => sets.push({
            data: line, showLine: true, pointRadius: 0, borderColor: color, borderWidth: 2, fill: false
        }));
    });
    return sets;
}

function drawMap(p) {
    // tick padding also pads the chart area, so T has to stay above it
    const W = 40, T = 20, R = 12, B = 34;
    const w = p.box[1] - p.box[0], h = p.box[3] - p.box[2];
    const ctx = addCanvas(p.box[0] - W, p.box[2] - T, W + w + R, T + h + B);
    new Chart(ctx, {
        type: 'scatter',
        data: { datasets: p.contours ? contourSets() : [] },
        options: {
            responsive: false,
            animation: false,
            events: [],
            layout: { padding: { top: T, right: R, left: 0, bottom: 0 } },
            plugins: { legend: { display: false }, tooltip: { enabled: false } },
            scales: {
                x: {
                    type: 'linear', min: -.5, max: 20.5,
                    grid: { display: false, drawTicks: false }, border: { display: false },
                    afterBuildTicks: s => { s.ticks = mapTicks.map(v => ({ value: v })); },
                    afterFit: s => { s.height = B; },
                    ticks: { padding: 12, maxRotation: 0, color: '#000', font: { family: FONT, size: 12 } }
                },
                y: {
                    type: 'linear', min: -.5, max: 22.5, reverse: true,
                    grid: { display: false, drawTicks: false }, border: { display: false },
                    afterBuildTicks: s => { s.ticks = mapTicks.map(v => ({ value: v })); },
                    afterFit: s => { s.width = W; },
                    ticks: { padding: 14, color: '#000', font: { family: FONT, size: 12 } }
                }
            }
        },
        plugins: [heatPlugin(p.grid, p.cmap, p.cb.min, p.cb.max), {
            id: 'decor',
            afterDatasetsDraw(chart) {
                const a = chart.chartArea;
                drawRuns(chart.ctx, p.tag, a.left + 9, a.top + 22, 26.5, { left: true, color: p.tagColor });
                drawFrame(chart);
                drawTickMarks(chart, chart.scales.x);
                drawTickMarks(chart, chart.scales.y);
            }
        }]
    });
}

function drawColorbar(p) {
    const L = 18, T = 20, R = 78, B = 20;
    const bar = p.cbBox;
    const w = bar[1] - bar[0], h = bar[3] - bar[2];
    const left = bar[0] - L, top = bar[2] - T;
    const ctx = addCanvas(left, top, L + w + R, T + h + B);
    const cb = p.cb;
    new Chart(ctx, {
        type: 'scatter',
        data: { datasets: [] },
        options: {
            responsive: false,
            animation: false,
            events: [],
            layout: { padding: { top: T, left: L, bottom: B, right: 0 } },
            plugins: { legend: { display: false }, tooltip: { enabled: false } },
            scales: {
                x: { type: 'linear', display: false, min: 0, max: 1 },
                y: {
                    type: 'linear', position: 'right', min: cb.min, max: cb.max,
                    grid: { display: false, drawTicks: false }, border: { display: false },
                    afterBuildTicks: s => { s.ticks = cb.ticks.map(v => ({ value: v })); },
                    afterFit: s => { s.width = R; },
                    ticks: {
                        padding: 14, color: '#000', font: { family: FONT, size: 12 },
                        callback: v => v.toFixed(cb.digits)
                    }
                }
            }
        },
        plugins: [{
            id: 'bar',
            afterDatasetsDraw(chart) {
                const y = chart.scales.y, a = chart.chartArea, c = chart.ctx;
                for (let i = 0; i < 256; i++) {
                    const v0 = cb.min + (cb.max - cb.min) * i / 256, v1 = cb.min + (cb.max - cb.min) * (i + 1) / 256;
                    c.fillStyle = p.cmap((i + .5) / 256);
                    const y0 = y.getPixelForValue(v1), y1 = y.getPixelForValue(v0);
                    c.fillRect(a.left, y0, a.right - a.left, y1 - y0 + .6);
                }
                drawFrame(chart);
                drawTickMarks(chart, y);
                if (cb.offset) drawRuns(c, cb.offset, a.left + 4, a.top - 7.5, 12);
                drawRuns(c, cb.label, cb.labelX - left, (a.top + a.bottom) / 2, 22.5, { rotate: -Math.PI / 2 });
            }
        }]
    });
}

const PRED = [{ t: '[OIII]' }, { t: 'pred', sub: 1, i: 1 }];
const OBS = [{ t: '[OIII]' }, { t: 'obs', sub: 1, i: 1 }];
const CPDR = [{ t: 'c' }, { t: 'PDR', sub: 1, i: 1 }];
const COL = [[41, 379, 400, 422], [547, 885, 906, 928], [1052, 1391, 1412, 1433]];
const ROW = [[55, 426, 24, 457], [528, 899, 497, 930], [1001, 1372, 970, 1403]];

const panels = [
    { tag: 'a)', tagColor: '#fff', col: 0, row: 0, grid: gridA, cmap: jet, cb: { min: .065, max: 1.8, digits: 1, ticks: [.2,.4,.6,.8,1,1.2,1.4,1.6,1.8], offset: '1e\u22125', labelX: 472, label: PRED.concat([{ t: ' (W/m\u00b2/sr)' }]) } },
    { tag: 'b)', col: 0, row: 1, grid: gridB, cmap: jet, cb: { min: .065, max: 1.8, digits: 1, ticks: [.2,.4,.6,.8,1,1.2,1.4,1.6,1.8], offset: '1e\u22125', labelX: 472, label: OBS.concat([{ t: ' (W/m\u00b2/sr)' }]) } },
    { tag: 'c)', col: 0, row: 2, grid: gridC, cmap: jet, cb: { min: .535, max: 2.263, digits: 1, ticks: [.6,.8,1,1.2,1.4,1.6,1.8,2,2.2], labelX: 472, label: OBS.concat([{ t: '/' }], PRED) } },
    { tag: 'd)', col: 1, row: 0, grid: gridD, cmap: jet, contours: true, cb: { min: .071, max: 1.896, digits: 2, ticks: [.25,.5,.75,1,1.25,1.5,1.75], offset: '1e\u22126', labelX: 984, label: '[CII] 157\u00b5m (W/m\u00b2/sr)' } },
    { tag: 'e)', col: 1, row: 1, grid: gridE, cmap: jet, contours: true, cb: { min: .04, max: 2.5, digits: 1, ticks: [.5,1,1.5,2], offset: '1e\u22126', labelX: 976, label: '[OI] 63\u00b5m (W/m\u00b2/sr)' } },
    { tag: 'f)', col: 1, row: 2, grid: gridF, cmap: seismic, contours: true, cb: { min: 0, max: 1, digits: 1, ticks: [0,.2,.4,.6,.8,1], labelX: 977, label: '[CII]/([CII]+[OI])' } },
    { tag: 'g)', col: 2, row: 0, grid: gridG, cmap: jet, contours: true, cb: { min: .026, max: .871, digits: 1, ticks: [.1,.2,.3,.4,.5,.6,.7,.8], labelX: 1483, label: '([CII]+[OI])/[OIII]' } },
    { tag: 'h)', col: 2, row: 1, grid: gridH, cmap: jet, contours: true, cb: { min: -.67, max: 6.1, digits: 0, ticks: [0,1,2,3,4,5,6], labelX: 1472, label: CPDR.concat([{ t: ' (%)' }]) } },
    { tag: 'i)', col: 2, row: 2, grid: gridI, cmap: jet, contours: true, cb: { min: .016, max: .551, digits: 1, ticks: [.1,.2,.3,.4,.5], labelX: 1485, label: [{ t: 'uncertainties on ' }].concat(CPDR, [{ t: ' (%)' }]) } }
];

panels.forEach(p => {
    const c = COL[p.col], r = ROW[p.row];
    p.box = [c[0], c[1], r[0], r[1]];
    p.cbBox = [c[2], c[3], r[2], r[3]];
    drawMap(p);
    drawColorbar(p);
});

// --- line ratio panels ---
function makeCloudSprite() {
    const c = document.createElement('canvas');
    c.width = c.height = 11;
    const g = c.getContext('2d');
    g.fillStyle = 'rgba(128,128,128,.6)';
    g.beginPath();
    g.moveTo(5.5, 1.5); g.lineTo(9.5, 5.5); g.lineTo(5.5, 9.5); g.lineTo(1.5, 5.5);
    g.closePath();
    g.fill();
    g.strokeStyle = 'rgba(128,128,128,.5)';
    g.lineWidth = 1.3;
    g.beginPath();
    g.moveTo(5.5, 0); g.lineTo(5.5, 11); g.moveTo(0, 5.5); g.lineTo(11, 5.5);
    g.stroke();
    return c;
}

function makeCrossSprite() {
    const c = document.createElement('canvas');
    c.width = c.height = 18;
    const g = c.getContext('2d');
    const cross = () => {
        g.beginPath();
        g.moveTo(4, 4); g.lineTo(14, 14); g.moveTo(14, 4); g.lineTo(4, 14);
        g.stroke();
    };
    g.lineCap = 'square';
    g.strokeStyle = '#000';
    g.lineWidth = 6.5;
    cross();
    g.strokeStyle = '#b22a2a';
    g.lineWidth = 3.6;
    cross();
    return c;
}

const cloudSprite = makeCloudSprite();
const crossSprite = makeCrossSprite();

function track(data, color, dash, mid) {
    return {
        data: data,
        showLine: true,
        borderColor: color,
        borderWidth: 2,
        borderDash: DASHES[dash],
        cubicInterpolationMode: 'monotone',
        backgroundColor: color,
        pointStyle: 'rect',
        pointBackgroundColor: color,
        pointBorderWidth: 0,
        pointRadius: c => (c.dataIndex === 0 || c.dataIndex === mid || c.dataIndex === data.length - 1) ? 6.8 : 0
    };
}

function logScale(min, max, isX, size) {
    const scale = {
        type: 'logarithmic', min: min, max: max,
        grid: { display: false, drawTicks: false }, border: { display: false },
        ticks: { display: false, autoSkip: false, maxRotation: 0 }
    };
    if (isX) scale.afterFit = s => { s.height = size; };
    else scale.afterFit = s => { s.width = size; };
    return scale;
}

function drawLegend(ctx, a) {
    const x0 = a.left + 9.7, y0 = a.top + 177;
    ctx.save();
    ctx.fillStyle = 'rgba(255,255,255,.85)';
    ctx.strokeStyle = '#d0d0d0';
    ctx.lineWidth = 1;
    ctx.beginPath();
    ctx.roundRect(x0, y0, 160.6, 246, 3);
    ctx.fill();
    ctx.stroke();
    const rowY = [14.3, 41, 68.3, 98.3, 131, 163, 195, 227.7];
    const sample = (y, color, dash) => {
        ctx.strokeStyle = color;
        ctx.lineWidth = 2.5;
        ctx.setLineDash(dash);
        ctx.beginPath();
        ctx.moveTo(x0 + 7.3, y);
        ctx.lineTo(x0 + 44.6, y);
        ctx.stroke();
        ctx.setLineDash([]);
    };
    legendLogU.forEach((label, i) => {
        const y = y0 + rowY[i];
        sample(y, '#000', [DASHES.dash, DASHES.dashdot, [2.2, 3.2]][i].map(d => d * 1.1));
        drawRuns(ctx, label, x0 + 59, y, 17.5, { left: true });
    });
    legendDensity.forEach((label, i) => {
        const y = y0 + rowY[i + 3];
        sample(y + 1, DENSITY_COLORS[i], []);
        drawRuns(ctx, [{ t: 'n', i: 1 }, { t: '0', sub: 1, i: 1 }, { t: ' = 10' }, { t: label, sup: 1 }], x0 + 59, y, 17.5, { left: true });
    });
    ctx.restore();
}

function drawRatioPanel(p) {
    const W = 75, T = 12, R = 20, B = 66;
    const w = p.box[1] - p.box[0], h = p.box[3] - p.box[2];
    const left = p.box[0] - W;
    const ctx = addCanvas(left, p.box[2] - T, W + w + R, T + h + B);
    const sets = p.tracks.map(t => track(t[0], t[1], t[2], t[3]));
    sets.push({ data: p.mean, pointStyle: crossSprite, pointRadius: 8 });
    sets.push({ data: p.cloud, pointStyle: cloudSprite, pointRadius: 5 });
    new Chart(ctx, {
        type: 'scatter',
        data: { datasets: sets },
        options: {
            responsive: false,
            animation: false,
            events: [],
            layout: { padding: { top: T, right: R, left: 0, bottom: 0 } },
            plugins: { legend: { display: false }, tooltip: { enabled: false } },
            scales: {
                x: logScale(.003, 20000, true, B),
                y: logScale(p.ylim[0], p.ylim[1], false, W)
            }
        },
        plugins: [{
            id: 'decor',
            afterDatasetsDraw(chart) {
                const a = chart.chartArea, c = chart.ctx;
                drawFrame(chart);
                drawTickMarks(chart, chart.scales.x, true);
                drawTickMarks(chart, chart.scales.y, true);
                drawRuns(c, p.tag, a.left + 11, a.top + 29, 26.5, { left: true });
                (p.notes || []).forEach(n => {
                    drawRuns(c, n[0], chart.scales.x.getPixelForValue(n[1]), chart.scales.y.getPixelForValue(n[2]), 13, { left: true });
                });
                drawRuns(c, '([CII]+[OI])/[OIII]', (a.left + a.right) / 2, a.bottom + 44, 22.5);
                drawRuns(c, p.ylabel, p.ylabelX - left, (a.top + a.bottom) / 2, 22.5, { rotate: -Math.PI / 2 });
                if (p.legend) drawLegend(c, a);
            }
        }]
    });
}

drawRatioPanel({
    tag: 'j)', box: [294, 717, 1443, 1875], ylim: [.00003, 20], ylabel: '[OIII]/24\u00b5m', ylabelX: 235,
    cloud: cloudJ, mean: meanJ,
    notes: [['0.0%', .164, 4.56], ['50.0%', 8.41, 1.42], ['99.0%', 964, .0174]],
    tracks: [
        [j_u3_n30, TEAL, 'dash', 4], [j_u3_n25, GREEN, 'dash', 3], [j_u3_n20, GOLD, 'dash', 3], [j_u3_n15, ORANGE, 'dash', 3],
        [j_u2_n25, GREEN, 'dashdot', 3], [j_u2_n20, GOLD, 'dashdot', 3], [j_u2_n15, ORANGE, 'dashdot', 3],
        [j_u1_n15, ORANGE, 'dot', 2], [j_u1_n10, RED, 'dot', 2]
    ]
});

drawRatioPanel({
    tag: 'k)', box: [799, 1222, 1443, 1875], ylim: [.000003, .3], ylabel: '[OIII]/70\u00b5m', ylabelX: 740,
    cloud: cloudK, mean: meanK, legend: true,
    tracks: [
        [k_u3_n30, TEAL, 'dash', 3], [k_u3_n25, GREEN, 'dash', 3], [k_u3_n20, GOLD, 'dash', 3], [k_u3_n15, ORANGE, 'dash', 3],
        [k_u2_n25, GREEN, 'dashdot', 3], [k_u2_n20, GOLD, 'dashdot', 3], [k_u2_n15, ORANGE, 'dashdot', 3],
        [k_u1_n15, ORANGE, 'dot', 3], [k_u1_n10, RED, 'dot', 3]
    ]
});
</script>
</body>
</html>
